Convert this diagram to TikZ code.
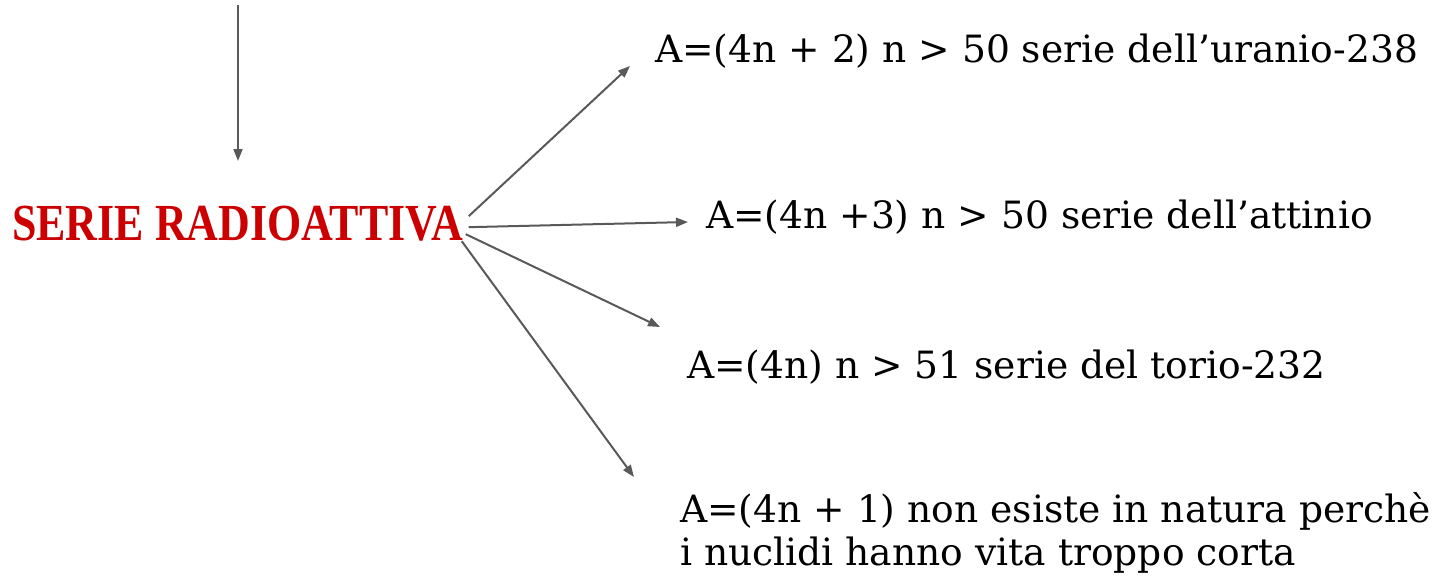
\documentclass[tikz,border=0pt]{standalone}
\usepackage{fontspec}
\setmainfont{DejaVu Serif}
\newfontfamily\titlefont{Liberation Serif}
\usetikzlibrary{arrows.meta,calc,positioning}

\definecolor{titlered}{HTML}{CC0000}
\definecolor{arrowgray}{HTML}{595959}

\tikzset{
  link/.style={draw=arrowgray, line width=2pt, -{Triangle[length=12pt,width=9pt]}},
  serie/.style={anchor=base west, inner sep=0pt, font=\fontsize{37.6}{43}\selectfont},
}

\begin{document}
\begin{tikzpicture}[x=1pt,y=-1pt]

\useasboundingbox (0,0) rectangle (1441,576);

\node[anchor=base west, inner sep=0pt, text=titlered,
      font=\titlefont\bfseries\fontsize{52}{60}\selectfont] (radio) at (12,240)
      {\scalebox{0.845}[1]{SERIE RADIOATTIVA}};

\coordinate (top) at (238,5);
\coordinate (topend) at (238,161);
\draw [link] (top) to (topend);

% the four series
\node[serie] (uranio) at (655,62) {A=(4n + 2) n > 50 serie dell’uranio-238};
\node[serie] (attinio) at (706,228) {A=(4n +3) n > 50 serie dell’attinio};
\node[serie] (torio) at (687,378) {A=(4n) n > 51 serie del torio-232};
\node[serie] (nettunio) at (680,522) {A=(4n + 1) non esiste in natura perchè};
\node[serie] (nettuniob) at (680,565) {i nuclidi hanno vita troppo corta};

\coordinate (s1) at ($(radio.east) + (5,-7)$);
\coordinate (s2) at ($(radio.east) + (5,4)$);
\coordinate (s3) at ($(radio.east) + (2,11)$);
\coordinate (s4) at ($(radio.east) + (-2,18)$);

\coordinate (e1) at ($(uranio.base west) + (-25,4)$);
\coordinate (e2) at ($(attinio.base west) + (-18,-6)$);
\coordinate (e3) at ($(torio.base west) + (-27,-51)$);
\coordinate (e4) at ($(nettunio.base west) + (-46,-45)$);

\draw [link] (s1) to (e1);
\draw [link] (s2) to (e2);
\draw [link] (s3) to (e3);
\draw [link] (s4) to (e4);

\end{tikzpicture}
\end{document}
